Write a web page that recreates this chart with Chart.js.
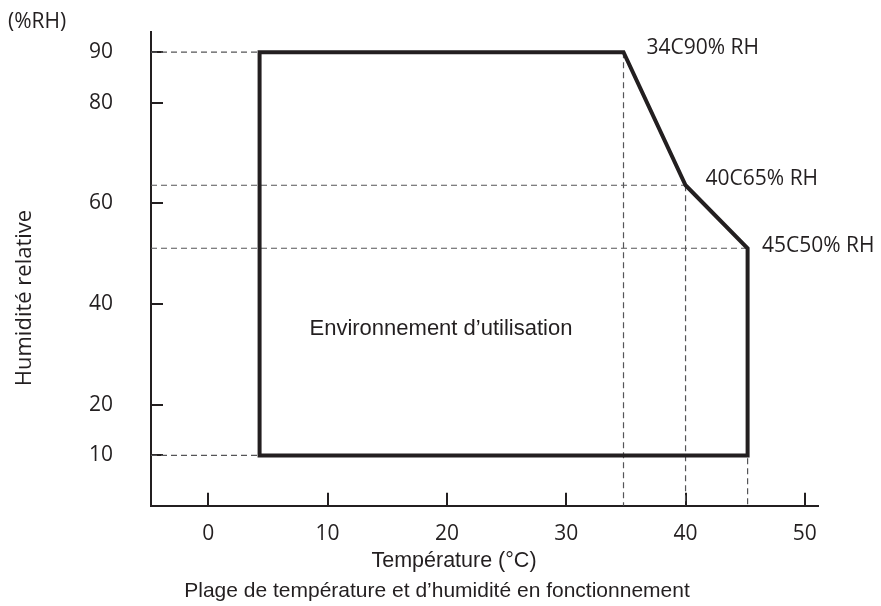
<!DOCTYPE html>
<html>
<head>
<meta charset="utf-8">
<script src="https://cdn.jsdelivr.net/npm/chart.js@4.4.1/dist/chart.umd.min.js"></script>
<style>
  body { margin: 0; background: #fff; }
  #chart { display: block; }
</style>
</head>
<body>
<canvas id="chart" width="881" height="606"></canvas>
<script>
// operating range outline (temperature °C, humidity %RH)
var envTemp = [4.3, 4.3, 34.8, 40, 45.2, 45.2, 4.3];
var envHum = [10, 90, 90, 63.6, 51.1, 10, 10];

// labelled corners
var cornerTemp = [34.8, 40, 45.2];
var cornerHum = [90, 63.6, 51.1];
var cornerLabels = ['34C90% RH', '40C65% RH', '45C50% RH'];

// horizontal guides run from the y axis to these points
var hGuideTemp = [4.3, 40, 45.2, 4.3];
var hGuideHum = [90, 63.6, 51.1, 10];

var xTicks = [0, 10, 20, 30, 40, 50];
var yTicks = [10, 20, 40, 60, 80, 90];
var xMin = -4.8, xMax = 51.1, yMin = 0, yMax = 94;

var ink = '#231f20';
var dashGrey = '#555557';

var datasets = [{
    label: 'Environnement',
    data: envTemp.map(function(t, i) { return {x: t, y: envHum[i]}; }),
    showLine: true,
    borderColor: ink,
    borderWidth: 4,
    borderJoinStyle: 'miter',
    borderCapStyle: 'square',
    pointRadius: 0,
    tension: 0
}];

for (var i = 0; i < hGuideTemp.length; i++) {
    datasets.push({
        data: [{x: xMin, y: hGuideHum[i]}, {x: hGuideTemp[i], y: hGuideHum[i]}],
        showLine: true,
        borderColor: dashGrey,
        borderWidth: 1.2,
        borderDash: [6, 4],
        pointRadius: 0
    });
}
for (var j = 0; j < cornerTemp.length; j++) {
    datasets.push({
        data: [{x: cornerTemp[j], y: cornerHum[j]}, {x: cornerTemp[j], y: yMin}],
        showLine: true,
        borderColor: dashGrey,
        borderWidth: 1.2,
        borderDash: [6, 4],
        pointRadius: 0
    });
}

var labelOffsets = [[23, -4.6], [20, -6.3], [14.4, -2.4]];

var textPlugin = {
    id: 'texts',
    afterDraw: function(chart) {
        var ctx = chart.ctx;
        var xs = chart.scales.x, ys = chart.scales.y;
        ctx.save();
        ctx.fillStyle = ink;

        ctx.font = '21px "Open Sans"';
        ctx.textAlign = 'left';
        ctx.textBaseline = 'middle';
        ctx.fillText('(%RH)', 8, 22);

        for (var k = 0; k < cornerLabels.length; k++) {
            ctx.fillText(cornerLabels[k],
                xs.getPixelForValue(cornerTemp[k]) + labelOffsets[k][0],
                ys.getPixelForValue(cornerHum[k]) + labelOffsets[k][1]);
        }

        ctx.font = '22px "Liberation Sans"';
        ctx.textAlign = 'center';
        ctx.fillText('Environnement d\u2019utilisation', xs.getPixelForValue(19.5), ys.getPixelForValue(35.1));

        ctx.font = '21.5px "Liberation Sans"';
        ctx.textBaseline = 'alphabetic';
        ctx.fillText('Température (°C)', 454, 567);
        ctx.font = '21px "Liberation Sans"';
        ctx.fillText('Plage de température et d\u2019humidité en fonctionnement', 437, 597);

        ctx.translate(25, 298);
        ctx.rotate(-Math.PI / 2);
        ctx.font = '22px "Open Sans"';
        ctx.textBaseline = 'middle';
        ctx.fillText('Humidité relative', 0, 0);
        ctx.restore();
    }
};

new Chart(document.getElementById('chart'), {
    type: 'scatter',
    data: { datasets: datasets },
    options: {
        responsive: false,
        animation: false,
        devicePixelRatio: 1,
        layout: { padding: { top: 32, right: 63, bottom: 25.2, left: 0 } },
        plugins: {
            legend: { display: false },
            tooltip: { enabled: false }
        },
        scales: {
            x: {
                type: 'linear',
                min: xMin,
                max: xMax,
                afterBuildTicks: function(s) { s.ticks = xTicks.map(function(v) { return {value: v}; }); },
                afterFit: function(s) { s.height = 75; s.paddingLeft = 0; s.paddingRight = 0; },
                grid: { drawOnChartArea: false, drawTicks: true, tickLength: -13, color: ink, lineWidth: 2 },
                border: { display: true, color: ink, width: 2 },
                ticks: { padding: 29, color: ink, font: { family: 'Open Sans', size: 21 } }
            },
            y: {
                type: 'linear',
                min: yMin,
                max: yMax,
                afterBuildTicks: function(s) { s.ticks = yTicks.map(function(v) { return {value: v}; }); },
                afterFit: function(s) { s.width = 151; s.paddingTop = 0; s.paddingBottom = 0; },
                grid: { drawOnChartArea: false, drawTicks: true, tickLength: -12, color: ink, lineWidth: 2 },
                border: { display: true, color: ink, width: 2 },
                ticks: { padding: 50, color: ink, font: { family: 'Open Sans', size: 21 } }
            }
        }
    },
    plugins: [textPlugin]
});
</script>
</body>
</html>
